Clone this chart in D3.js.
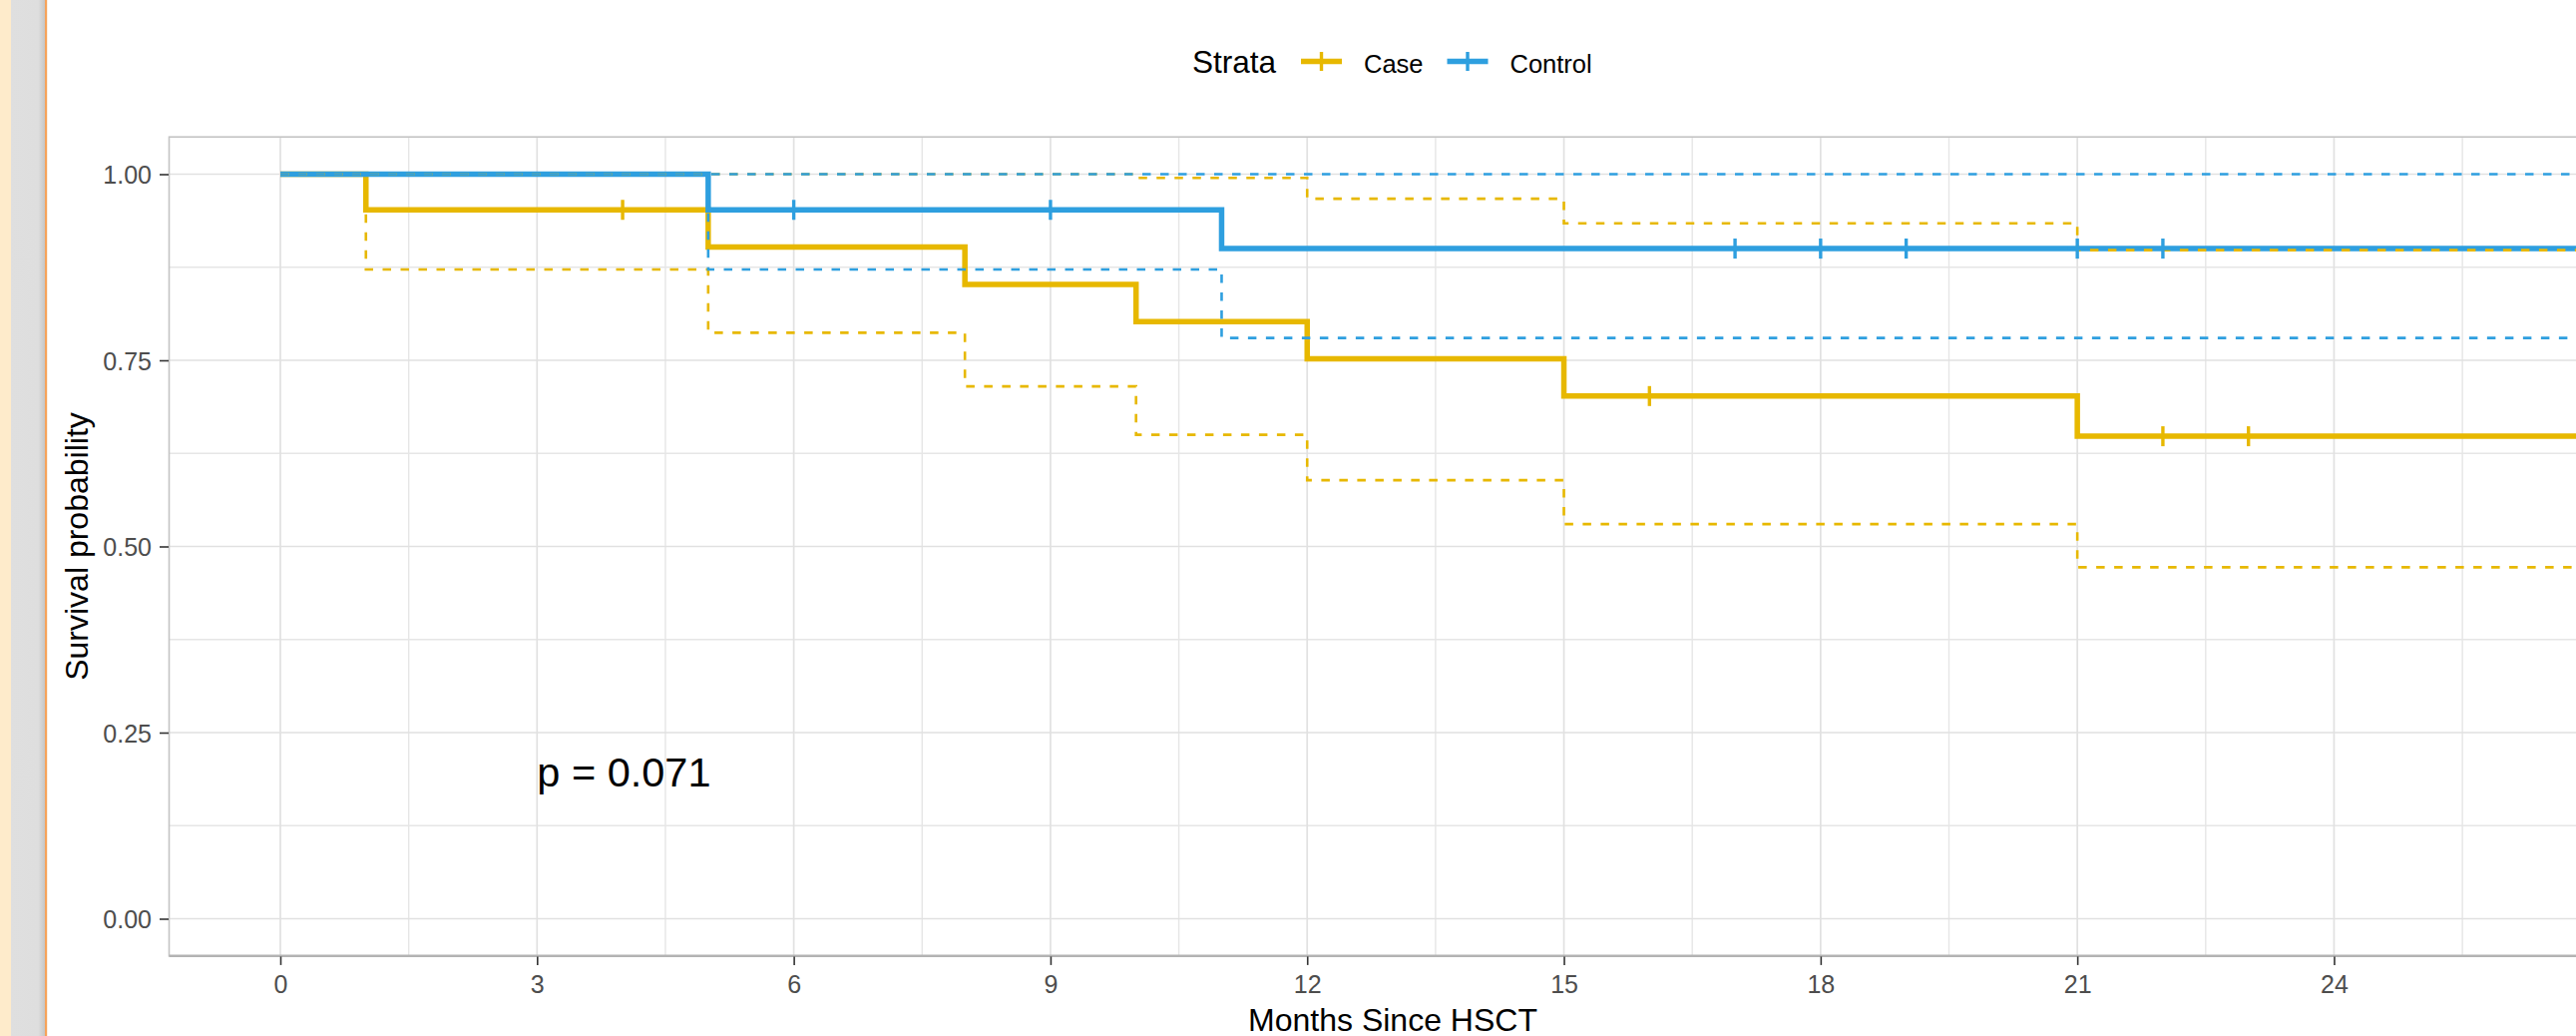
<!DOCTYPE html>
<html><head><meta charset="utf-8">
<script src="https://cdn.jsdelivr.net/npm/d3@7"></script>
<style>
html,body{margin:0;padding:0;overflow:hidden;background:#fff;}
svg{display:block;font-family:"Liberation Sans",Arial,Helvetica,sans-serif;}
</style>
</head><body>
<svg id="c" width="2582" height="1038"></svg>
<script>
// ---------- data ----------
const strata = ["Case", "Control"];
const colors = ["#E7B800", "#2E9FDF"];

const caseTime  = [0, 1, 5, 8, 10, 12, 15, 21];
const caseSurv  = [1, 0.952, 0.902, 0.852, 0.802, 0.752, 0.702, 0.648];
const caseLower = [1, 0.872, 0.787, 0.715, 0.650, 0.589, 0.530, 0.472];
const caseUpper = [1, 1, 1, 1, 0.995, 0.967, 0.934, 0.898];
const caseCensor = [4, 16, 22, 23];

const ctrlTime  = [0, 5, 11];
const ctrlSurv  = [1, 0.952, 0.900];
const ctrlLower = [1, 0.872, 0.780];
const ctrlUpper = [1, 1, 1];
const ctrlCensor = [6, 9, 17, 18, 19, 21, 22];

const followUpEnd = 27;           // curves run past the visible right edge
const xLimit = [0, 26];
const xTicks = [0, 3, 6, 9, 12, 15, 18, 21, 24];
const xMinor = [1.5, 4.5, 7.5, 10.5, 13.5, 16.5, 19.5, 22.5, 25.5];
const yTicks = [0, 0.25, 0.5, 0.75, 1];
const yTickLabels = ["0.00", "0.25", "0.50", "0.75", "1.00"];
const yMinor = [0.125, 0.375, 0.625, 0.875];
const pValueText = "p = 0.071";
const pValuePos = [3, 0.2];

// ---------- layout ----------
const svg = d3.select("#c");
const W = 2582, H = 1038;
const panel = {left: 169.5, right: 2622.5, top: 137.2, bottom: 957.8};

// left browser strip
svg.append("rect").attr("x", 0).attr("y", 0).attr("width", 11).attr("height", H).attr("fill", "#FEEBCB");
const grad = svg.append("defs").append("linearGradient").attr("id", "gstrip").attr("x1", 0).attr("x2", 1).attr("y1", 0).attr("y2", 0);
grad.append("stop").attr("offset", "0%").attr("stop-color", "#DFDFDF");
grad.append("stop").attr("offset", "80%").attr("stop-color", "#DEDEDE");
grad.append("stop").attr("offset", "100%").attr("stop-color", "#C6C6C6");
svg.append("rect").attr("x", 11).attr("y", 0).attr("width", 34).attr("height", H).attr("fill", "url(#gstrip)");
svg.append("rect").attr("x", 45).attr("y", 0).attr("width", 2.2).attr("height", H).attr("fill", "#F6A35A");

const span = xLimit[1] - xLimit[0];
const x = d3.scaleLinear().domain([xLimit[0] - 0.05 * span, xLimit[1] + 0.05 * span]).range([panel.left, panel.right]);
const y = d3.scaleLinear().domain([-0.05, 1.05]).range([panel.bottom, panel.top]);

svg.append("defs").append("clipPath").attr("id", "clip")
  .append("rect").attr("x", panel.left).attr("y", panel.top)
  .attr("width", panel.right - panel.left).attr("height", panel.bottom - panel.top);

const g = svg.append("g");
const plot = g.append("g").attr("clip-path", "url(#clip)");

// grid
const xGrid = xTicks.concat([27]);
plot.selectAll(".gxm").data(xMinor).join("line")
  .attr("x1", d => x(d)).attr("x2", d => x(d)).attr("y1", panel.top).attr("y2", panel.bottom)
  .attr("stroke", "#E6E6E6").attr("stroke-width", 1.4);
plot.selectAll(".gym").data(yMinor).join("line")
  .attr("y1", d => y(d)).attr("y2", d => y(d)).attr("x1", panel.left).attr("x2", panel.right)
  .attr("stroke", "#E6E6E6").attr("stroke-width", 1.4);
plot.selectAll(".gx").data(xGrid).join("line")
  .attr("x1", d => x(d)).attr("x2", d => x(d)).attr("y1", panel.top).attr("y2", panel.bottom)
  .attr("stroke", "#E1E1E1").attr("stroke-width", 1.7);
plot.selectAll(".gy").data(yTicks).join("line")
  .attr("y1", d => y(d)).attr("y2", d => y(d)).attr("x1", panel.left).attr("x2", panel.right)
  .attr("stroke", "#E1E1E1").attr("stroke-width", 1.7);

// series
function steps(times, vals) {
  const pts = times.map((t, i) => [t, vals[i]]);
  pts.push([followUpEnd, vals[vals.length - 1]]);
  return pts;
}
function survAt(times, vals, t) {
  let v = vals[0];
  times.forEach((tt, i) => { if (tt <= t) v = vals[i]; });
  return v;
}
const series = [
  {name: strata[0], color: colors[0], t: caseTime, s: caseSurv, lo: caseLower, up: caseUpper, c: caseCensor},
  {name: strata[1], color: colors[1], t: ctrlTime, s: ctrlSurv, lo: ctrlLower, up: ctrlUpper, c: ctrlCensor}
];
const line = d3.line().x(d => x(d[0])).y(d => y(d[1])).curve(d3.curveStepAfter);

series.forEach(sr => {
  plot.append("path").attr("d", line(steps(sr.t, sr.s)))
    .attr("fill", "none").attr("stroke", sr.color).attr("stroke-width", 5.5);
});
["lo", "up"].forEach(k => {
  series.forEach(sr => {
    plot.append("path").attr("d", line(steps(sr.t, sr[k])))
      .attr("fill", "none").attr("stroke", sr.color).attr("stroke-width", 2.6)
      .attr("stroke-dasharray", "8.5 9.5");
  });
});
series.forEach(sr => {
  const cg = plot.append("g");
  sr.c.forEach(ct => {
    const cx = x(ct), cy = y(survAt(sr.t, sr.s, ct));
    cg.append("line").attr("x1", cx).attr("x2", cx).attr("y1", cy - 10).attr("y2", cy + 10)
      .attr("stroke", sr.color).attr("stroke-width", 3.4);
    cg.append("line").attr("x1", cx - 10).attr("x2", cx + 10).attr("y1", cy).attr("y2", cy)
      .attr("stroke", sr.color).attr("stroke-width", 3.4);
  });
});

// p value
plot.append("text").attr("x", x(pValuePos[0])).attr("y", y(pValuePos[1]) + 17)
  .attr("font-size", 41.5).attr("fill", "#000").text(pValueText);

// panel border
g.append("rect").attr("x", panel.left).attr("y", panel.top)
  .attr("width", panel.right - panel.left).attr("height", panel.bottom - panel.top)
  .attr("fill", "none").attr("stroke", "#C4C4C4").attr("stroke-width", 1.6);
g.append("line").attr("x1", panel.left).attr("x2", panel.right).attr("y1", panel.bottom).attr("y2", panel.bottom)
  .attr("stroke", "#B3B3B3").attr("stroke-width", 2.6);

// axes
const xAxis = d3.axisBottom(x).tickValues(xTicks).tickSize(8.5).tickPadding(6).tickFormat(d3.format("d"));
const xa = g.append("g").attr("transform", `translate(0,${panel.bottom + 0.6})`).call(xAxis);
xa.select(".domain").remove();
xa.selectAll(".tick line").attr("stroke", "#333").attr("stroke-width", 1.6);
xa.selectAll(".tick text").attr("font-size", 25).attr("fill", "#4D4D4D")
  .attr("font-family", "Liberation Sans, Arial, sans-serif").attr("dy", null).attr("y", 37);

const yAxis = d3.axisLeft(y).tickValues(yTicks).tickSize(9).tickPadding(8).tickFormat((d, i) => yTickLabels[i]);
const ya = g.append("g").attr("transform", `translate(${panel.left - 0.5},0)`).call(yAxis);
ya.select(".domain").remove();
ya.selectAll(".tick line").attr("stroke", "#333").attr("stroke-width", 1.6);
ya.selectAll(".tick text").attr("font-size", 25).attr("fill", "#4D4D4D")
  .attr("font-family", "Liberation Sans, Arial, sans-serif").attr("dy", "0.36em").attr("x", -17);

// axis titles
g.append("text").attr("x", (panel.left + panel.right) / 2).attr("y", 1032.5)
  .attr("text-anchor", "middle").attr("font-size", 32).attr("fill", "#000").text("Months Since HSCT");
g.append("text").attr("transform", `translate(88,${(panel.top + panel.bottom) / 2}) rotate(-90)`)
  .attr("text-anchor", "middle").attr("font-size", 32).attr("fill", "#000").text("Survival probability");

// legend
const lg = svg.append("g");
lg.append("text").attr("x", 1195).attr("y", 72.5).attr("font-size", 31.5).attr("fill", "#000").text("Strata");
const legendX = [1304, 1450.5];
series.forEach((sr, i) => {
  const lx = legendX[i];
  lg.append("line").attr("x1", lx).attr("x2", lx + 41).attr("y1", 61.5).attr("y2", 61.5)
    .attr("stroke", sr.color).attr("stroke-width", 5.5);
  lg.append("line").attr("x1", lx + 20.5).attr("x2", lx + 20.5).attr("y1", 52).attr("y2", 71)
    .attr("stroke", sr.color).attr("stroke-width", 3.4);
  lg.append("text").attr("x", lx + 63).attr("y", 72.5).attr("font-size", 25.5).attr("fill", "#000").text(sr.name);
});
</script>
</body></html>
